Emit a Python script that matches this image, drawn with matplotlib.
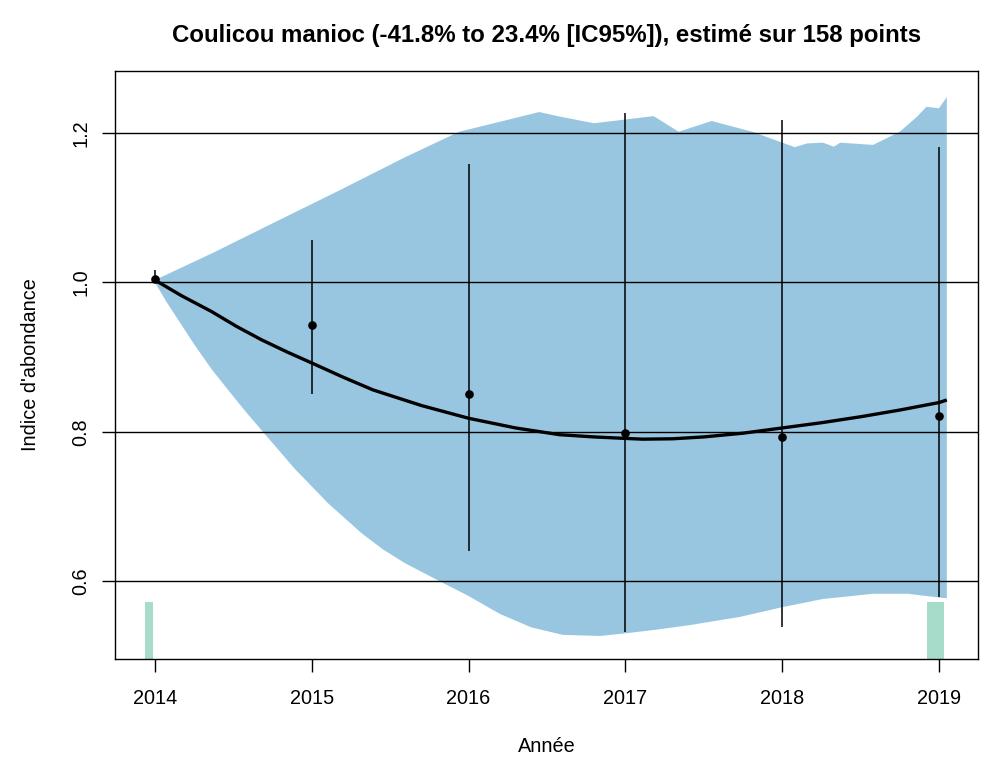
import numpy as np
import matplotlib
matplotlib.use("Agg")
import matplotlib.pyplot as plt

plt.rcParams["font.family"] = ["Liberation Sans", "DejaVu Sans"]

# --- yearly index estimates with 95% CI ---
years = [2014, 2015, 2016, 2017, 2018, 2019]
index_vals = [1.005, 0.943, 0.850, 0.798, 0.7925, 0.821]
ci_low = [0.999, 0.850, 0.640, 0.532, 0.539, 0.579]
ci_high = [1.017, 1.057, 1.159, 1.227, 1.217, 1.1815]

# --- smoothed trend ---
trend_x = [2014.0, 2014.17, 2014.36, 2014.52, 2014.68, 2014.84, 2015.0, 2015.2,
           2015.39, 2015.7, 2016.0, 2016.3, 2016.58, 2016.8, 2017.0, 2017.11,
           2017.3, 2017.5, 2017.75, 2018.0, 2018.25, 2018.5, 2018.75, 2019.0, 2019.05]
trend_y = [1.003, 0.982, 0.961, 0.941, 0.923, 0.907, 0.892, 0.873,
           0.856, 0.835, 0.818, 0.805, 0.796, 0.793, 0.791, 0.790,
           0.7905, 0.793, 0.798, 0.805, 0.812, 0.820, 0.829, 0.839, 0.8425]

# --- confidence envelope of the trend ---
band_up_x = [2014.0, 2014.375, 2014.75, 2015.18, 2015.60, 2015.94, 2016.20, 2016.45,
             2016.58, 2016.80, 2017.0, 2017.18, 2017.34, 2017.55, 2017.81, 2018.08,
             2018.16, 2018.26, 2018.33, 2018.37, 2018.58, 2018.75, 2018.86, 2018.92,
             2019.0, 2019.05]
band_up_y = [1.003, 1.040, 1.079, 1.1235, 1.168, 1.2016, 1.215, 1.228,
             1.222, 1.213, 1.218, 1.2226, 1.2016, 1.216, 1.2016, 1.181,
             1.186, 1.187, 1.1816, 1.187, 1.184, 1.2016, 1.2217, 1.235,
             1.233, 1.248]
band_low_x = [2014.0, 2014.07, 2014.149, 2014.25, 2014.36, 2014.47, 2014.574, 2014.70,
              2014.893, 2015.105, 2015.318, 2015.45, 2015.594, 2015.80, 2016.0, 2016.2,
              2016.4, 2016.6, 2016.84, 2017.0, 2017.2, 2017.41, 2017.73, 2018.0,
              2018.26, 2018.58, 2018.80, 2019.0, 2019.05]
band_low_y = [1.0, 0.975, 0.9495, 0.917, 0.884, 0.855, 0.828, 0.797,
              0.750, 0.704, 0.664, 0.643, 0.624, 0.6015, 0.580, 0.556,
              0.538, 0.528, 0.5265, 0.530, 0.535, 0.541, 0.552, 0.565,
              0.576, 0.583, 0.583, 0.578, 0.577]

# --- sampling periods (green bars) ---
bar_x = [2013.962, 2018.978]
bar_w = [0.045, 0.11]
bar_top = [0.572, 0.572]

title = "Coulicou manioc (-41.8% to 23.4% [IC95%]), estimé sur 158 points"

y_min, y_max = 0.4957, 1.283

fig = plt.figure(figsize=(9.92, 7.59), dpi=100)
ax = fig.add_axes([0.1159, 0.1318, 0.870, 0.7747])

# envelope
ax.fill(band_up_x + band_low_x[::-1], band_up_y + band_low_y[::-1],
        color="#98c6e1", lw=0, zorder=1)

# green bars from the bottom of the plot
ax.bar(bar_x, [t - y_min for t in bar_top], width=bar_w, bottom=y_min,
       color="#a6dcc9", lw=0, zorder=1)

# horizontal reference lines
for yv in [0.6, 0.8, 1.0, 1.2]:
    ax.axhline(yv, color="black", lw=1.0, zorder=2)

# error bars + points
ax.vlines(years, ci_low, ci_high, color="black", lw=1.1, zorder=3)
ax.plot(years, index_vals, "o", color="black", ms=5.2, zorder=4)

# trend
ax.plot(trend_x, trend_y, color="black", lw=2.4, zorder=5, solid_capstyle="butt")

ax.set_xlim(2013.745, 2019.249)
ax.set_ylim(y_min, y_max)
ax.set_xticks(years)
ax.set_xticklabels([str(y) for y in years])
ax.set_yticks([0.6, 0.8, 1.0, 1.2])
ax.set_yticklabels(["0.6", "0.8", "1.0", "1.2"])
plt.setp(ax.get_yticklabels(), rotation=90, va="center")

ax.tick_params(axis="both", direction="out", length=9.5, width=1.0,
               labelsize=14.3, colors="black")
ax.tick_params(axis="x", pad=12)
ax.tick_params(axis="y", pad=8)
for s in ax.spines.values():
    s.set_linewidth(1.0)

ax.set_xlabel("Année", fontsize=14.3, labelpad=21)
ax.set_ylabel("Indice d'abondance", fontsize=14.3, labelpad=23)
ax.set_title(title, fontsize=17.3, fontweight="bold", pad=21)

fig.savefig("out.png", dpi=100)
